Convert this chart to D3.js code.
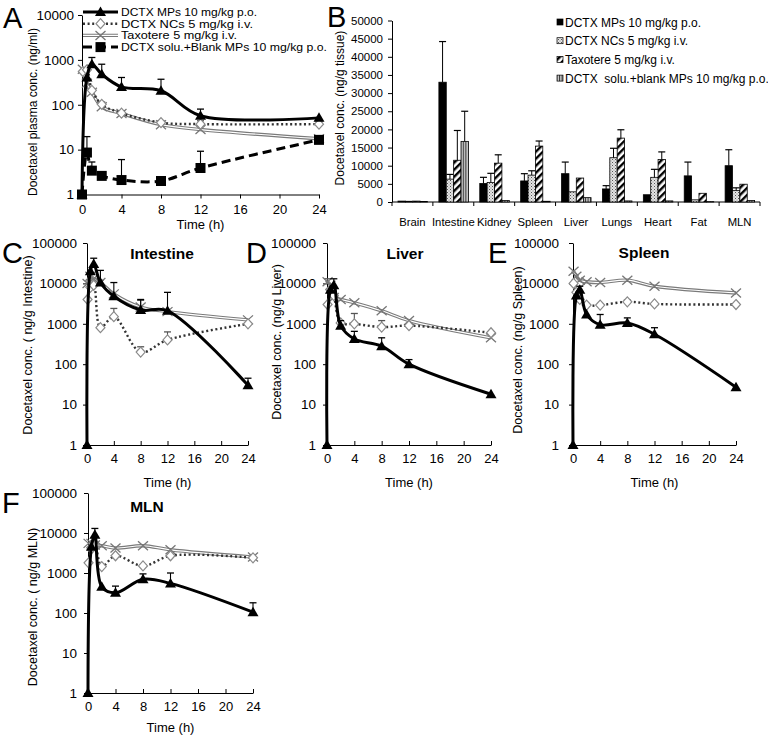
<!DOCTYPE html>
<html><head><meta charset="utf-8">
<script src="https://cdn.jsdelivr.net/npm/d3@7"></script>
<style>body{margin:0;background:#fff} text{font-family:"Liberation Sans",Arial,sans-serif}</style>
</head><body><svg id="c" width="768" height="740"></svg>
<script>
// ---------- shared ----------
const xTicks = [0, 4, 8, 12, 16, 20, 24];
const yTicksA = [1, 10, 100, 1000, 10000];
const yTicksT = [1, 10, 100, 1000, 10000, 100000];
const tPO = [0, 0.5, 1, 2, 4, 8, 12, 24];
const tIV = [0.083, 0.5, 1, 2, 4, 8, 12, 24];
const legendA = ["DCTX MPs 10 mg/kg p.o.", "DCTX NCs 5 mg/kg i.v.", "Taxotere 5 mg/kg i.v.", "DCTX solu.+Blank MPs 10 mg/kg p.o."];
const legendB = ["DCTX MPs 10 mg/kg p.o.", "DCTX NCs 5 mg/kg i.v.", "Taxotere 5 mg/kg i.v.", "DCTX  solu.+blank MPs 10 mg/kg p.o."];

// ---------- Panel A (plasma) ----------
const A_MPs = [1, 405, 800, 480, 250, 205, 57, 51];
const A_MPs_err = [null, null, 1130, 800, 405, 370, 80, null];
const A_NCs = [550, 600, 210, 102, 65, 40, 37, 37];
const A_NCs_err = [null, null, null, 115, 72, 44, 44, 42];
const A_Tax = [620, 300, 190, 90, 64, 36, 28, 17.5];
const A_Tax_err = [null, null, null, null, null, null, null, null];
const A_Blank = [1, 8.6, 3.4, 2.6, 2.1, 2.0, 3.9, 16.5];
const A_Blank_err = [null, 19.5, 5.3, null, 6.0, null, 9.2, null];

// ---------- Panel B (tissue distribution) ----------
const organs = ["Brain", "Intestine", "Kidney", "Spleen", "Liver", "Lungs", "Heart", "Fat", "MLN"];
const B_MPs = [250, 33000, 5100, 5800, 7800, 3600, 2000, 7200, 10000];
const B_MPs_err = [null, 44200, 6800, 7800, 11000, 4500, null, 11000, 14400];
const B_NCs = [200, 6300, 5400, 7400, 2800, 12200, 6800, 600, 3200];
const B_NCs_err = [null, 7600, 7900, 8600, null, 14800, 9000, null, 3900];
const B_Tax = [250, 11500, 10700, 15400, 6600, 17600, 11700, 2400, 4900];
const B_Tax_err = [null, 19700, 13000, 16800, null, 19900, 13800, null, null];
const B_Blank = [150, 16700, 400, 200, 1200, 300, 300, 100, 400];
const B_Blank_err = [null, 25000, null, null, null, null, null, null, null];

// ---------- Panel C (Intestine) ----------
const C_MPs = [1, 20000, 30000, 10500, 4800, 2200, 2100, 30];
const C_MPs_err = [null, null, 42000, 21000, 10500, 4000, 6000, 45];
const C_NCs = [4000, 8000, 9000, 800, 1500, 200, 400, 1000];
const C_NCs_err = [null, null, null, null, 2400, 270, 630, null];
const C_Tax = [10000, 15000, 13000, 10500, 5500, 2600, 2000, 1250];
const C_Tax_err = [null, null, null, 12000, null, 3800, null, null];

// ---------- Panel D (Liver) ----------
const D_MPs = [1, 7000, 9000, 900, 420, 280, 100, 18];
const D_MPs_err = [null, null, 13000, 1200, 650, 450, 130, null];
const D_NCs = [3000, 7000, 5000, 1050, 1000, 830, 900, 600];
const D_NCs_err = [null, null, null, null, 1800, 1200, null, null];
const D_Tax = [11000, 9000, 4500, 4000, 3300, 2100, 1200, 450];
const D_Tax_err = [13000, null, null, null, null, null, null, null];

// ---------- Panel E (Spleen) ----------
const E_MPs = [1, 5000, 7000, 1700, 950, 1050, 550, 27];
const E_MPs_err = [null, null, 8500, null, 1700, 1400, 800, null];
const E_NCs = [10000, 6000, 4000, 2900, 2900, 3500, 3100, 3000];
const E_NCs_err = [null, null, null, null, null, 3900, null, null];
const E_Tax = [20000, 15000, 12000, 11000, 10500, 12000, 8500, 5800];
const E_Tax_err = [null, null, null, null, null, null, null, null];

// ---------- Panel F (MLN) ----------
const F_MPs = [1, 4500, 9000, 450, 320, 700, 550, 105];
const F_MPs_err = [null, null, 13000, null, 470, 950, 1000, 180];
const F_NCs = [1800, 4000, 5000, 1450, 2700, 1500, 2700, 2400];
const F_NCs_err = [null, null, null, null, null, null, null, null];
const F_Tax = [5500, 5500, 5000, 4800, 4200, 4800, 3800, 2500];
const F_Tax_err = [null, null, null, null, null, null, null, null];

// =====================================================
const svg = d3.select("#c");
svg.append("rect").attr("width", 768).attr("height", 740).attr("fill", "#fff");
const FONT = '"Liberation Sans", Arial, sans-serif';

// patterns for bars
const defs = svg.append("defs");
const pNC = defs.append("pattern").attr("id", "pNC").attr("width", 3).attr("height", 3).attr("patternUnits", "userSpaceOnUse");
pNC.append("rect").attr("width", 3).attr("height", 3).attr("fill", "#e4e4e4");
pNC.append("rect").attr("width", 1).attr("height", 1).attr("fill", "#555");
pNC.append("rect").attr("x", 1.5).attr("y", 1.5).attr("width", 1).attr("height", 1).attr("fill", "#888");
const pTax = defs.append("pattern").attr("id", "pTax").attr("width", 5).attr("height", 5).attr("patternUnits", "userSpaceOnUse").attr("patternTransform", "rotate(45)");
pTax.append("rect").attr("width", 5).attr("height", 5).attr("fill", "#fff");
pTax.append("rect").attr("width", 2.4).attr("height", 5).attr("fill", "#000");
const pBl = defs.append("pattern").attr("id", "pBlank").attr("width", 2.6).attr("height", 4).attr("patternUnits", "userSpaceOnUse");
pBl.append("rect").attr("width", 2.6).attr("height", 4).attr("fill", "#c8c8c8");
pBl.append("rect").attr("width", 1).attr("height", 4).attr("fill", "#333");

// marker shapes
const MARK = {
  mp: "M0,-5.5L5.5,4L-5.5,4Z",
  blank: "M-5,-5h10v10h-10Z",
  nc: "M0,-5L4.5,0L0,5L-4.5,0Z",
  tax: "M-5,-4.5L5,4.5M-5,4.5L5,-4.5"
};

function drawMarker(g, style, cx, cy) {
  const p = g.append("path").attr("d", MARK[style]).attr("transform", `translate(${cx},${cy})`);
  if (style === "mp" || style === "blank") p.attr("fill", "#000");
  else if (style === "nc") p.attr("fill", "#fff").attr("stroke", "#8a8a8a").attr("stroke-width", 1.2);
  else p.attr("fill", "none").attr("stroke", "#777").attr("stroke-width", 1.3);
}

function strokeLine(g, style, d) {
  if (style === "tax") {
    g.append("path").attr("d", d).attr("fill", "none").attr("stroke", "#7a7a7a").attr("stroke-width", 3.4);
    g.append("path").attr("d", d).attr("fill", "none").attr("stroke", "#fff").attr("stroke-width", 1.2);
  } else if (style === "nc") {
    g.append("path").attr("d", d).attr("fill", "none").attr("stroke", "#333").attr("stroke-width", 2.4).attr("stroke-dasharray", "2,2.6");
  } else if (style === "mp") {
    g.append("path").attr("d", d).attr("fill", "none").attr("stroke", "#000").attr("stroke-width", 3);
  } else {
    g.append("path").attr("d", d).attr("fill", "none").attr("stroke", "#000").attr("stroke-width", 3).attr("stroke-dasharray", "9,5");
  }
}

function styleAxis(sel, fs) {
  sel.attr("font-family", FONT).attr("font-size", fs);
  sel.select(".domain").attr("stroke", "#000");
  sel.selectAll(".tick line").attr("stroke", "#000");
  sel.selectAll(".tick text").attr("fill", "#000");
}

function linePanel(o) {
  const x = d3.scaleLinear().domain([0, 24]).range([o.x0, o.x1]);
  const y = d3.scaleLog().domain([1, o.ymax]).range([o.y0, o.y1]);
  const g = svg.append("g");
  g.append("g").attr("transform", `translate(${o.x0},0)`)
    .call(d3.axisLeft(y).tickValues(o.yticks).tickFormat(d3.format("d")).tickSizeInner(4).tickSizeOuter(0).tickPadding(o.ypad))
    .call(s => styleAxis(s, o.yfs));
  g.append("g").attr("transform", `translate(0,${o.y0})`)
    .call(d3.axisBottom(x).tickValues(xTicks).tickSizeInner(o.xtick).tickSizeOuter(0).tickPadding(o.xpad))
    .call(s => styleAxis(s, o.xfs));
  const line = d3.line().x(d => x(d.t)).y(d => y(d.v)).curve(d3.curveCatmullRom.alpha(0.5));
  o.series.forEach(s => {
    const pts = s.t.map((t, i) => ({ t, v: s.v[i], e: s.e[i] }));
    strokeLine(g, s.style, line(pts));
    const ec = (s.style === "mp" || s.style === "blank") ? "#000" : "#555";
    pts.filter(d => d.e != null).forEach(d => {
      const cx = x(d.t);
      g.append("line").attr("x1", cx).attr("x2", cx).attr("y1", y(d.v)).attr("y2", y(d.e)).attr("stroke", ec).attr("stroke-width", 1.1);
      g.append("line").attr("x1", cx - 3.5).attr("x2", cx + 3.5).attr("y1", y(d.e)).attr("y2", y(d.e)).attr("stroke", ec).attr("stroke-width", 1.3);
    });
    pts.forEach(d => drawMarker(g, s.style, x(d.t), y(d.v)));
  });
  if (o.title) g.append("text").attr("x", o.title[1]).attr("y", o.title[2]).attr("text-anchor", "middle")
    .attr("font-size", 15.5).attr("font-weight", "bold").text(o.title[0]);
  g.append("text").attr("x", (o.x0 + o.x1) / 2).attr("y", o.timeY).attr("text-anchor", "middle").attr("font-size", 13).text("Time (h)");
  g.append("text").attr("transform", `translate(${o.ylab[1]},${o.ylab[2]}) rotate(-90)`).attr("text-anchor", "middle")
    .attr("dy", "0.35em").attr("font-size", o.ylabfs).text(o.ylab[0]);
  g.append("text").attr("x", o.letter[1]).attr("y", o.letter[2]).attr("font-size", 29).text(o.letter[0]);
}

function ser(vMP, eMP, vNC, eNC, vTax, eTax) {
  return [
    { style: "tax", t: tIV, v: vTax, e: eTax },
    { style: "nc", t: tIV, v: vNC, e: eNC },
    { style: "mp", t: tPO, v: vMP, e: eMP }
  ];
}

// Panel A
const seriesA = ser(A_MPs, A_MPs_err, A_NCs, A_NCs_err, A_Tax, A_Tax_err);
seriesA.push({ style: "blank", t: tPO, v: A_Blank, e: A_Blank_err });
linePanel({ x0: 82, x1: 319, y0: 194.5, y1: 15, ymax: 10000, yticks: yTicksA, ypad: 4, yfs: 13.5, xtick: 4, xpad: 6, xfs: 13,
  timeY: 229, ylab: ["Docetaxel plasma conc. (ng/ml)", 33, 112], ylabfs: 12, letter: ["A", 3, 28], series: seriesA });

// Panel A legend (drawn over the plot, as in the reference)
const styles = ["mp", "nc", "tax", "blank"];
const legWidths = [136, 132, 116, 206];
const legA = svg.append("g");
legendA.forEach((txt, i) => {
  const yy = 12 + i * 11.7;
  strokeLine(legA, styles[i], `M83,${yy}L118,${yy}`);
  drawMarker(legA, styles[i], 100.5, yy);
  legA.append("text").attr("x", 121).attr("y", yy + 3.8).attr("font-size", 10.1)
    .attr("textLength", legWidths[i]).attr("lengthAdjust", "spacingAndGlyphs").text(txt);
});

// Panels C-F
linePanel({ x0: 87, x1: 248, y0: 445, y1: 243, ymax: 100000, yticks: yTicksT, ypad: 6, yfs: 13.5, xtick: -4, xpad: 9, xfs: 13,
  timeY: 487, ylab: ["Docetaxel conc. ( ng/g Intestine)", 28, 345], ylabfs: 12.5, letter: ["C", 2, 263],
  title: ["Intestine", 162, 259], series: ser(C_MPs, C_MPs_err, C_NCs, C_NCs_err, C_Tax, C_Tax_err) });
linePanel({ x0: 327, x1: 491, y0: 445, y1: 243, ymax: 100000, yticks: yTicksT, ypad: 7, yfs: 13.5, xtick: -4, xpad: 9, xfs: 13,
  timeY: 487, ylab: ["Docetaxel conc. (ng/g Liver)", 277, 342], ylabfs: 12.5, letter: ["D", 246, 263],
  title: ["Liver", 405, 259], series: ser(D_MPs, D_MPs_err, D_NCs, D_NCs_err, D_Tax, D_Tax_err) });
linePanel({ x0: 573, x1: 736, y0: 445, y1: 243, ymax: 100000, yticks: yTicksT, ypad: 10, yfs: 13.5, xtick: -4, xpad: 9, xfs: 13,
  timeY: 487, ylab: ["Docetaxel conc. (ng/g Spleen)", 518, 350], ylabfs: 12.5, letter: ["E", 488, 263],
  title: ["Spleen", 644, 258], series: ser(E_MPs, E_MPs_err, E_NCs, E_NCs_err, E_Tax, E_Tax_err) });
linePanel({ x0: 88, x1: 253, y0: 693, y1: 493, ymax: 100000, yticks: yTicksT, ypad: 7, yfs: 13.5, xtick: -4, xpad: 9, xfs: 13,
  timeY: 732, ylab: ["Docetaxel conc. ( ng/g MLN)", 33, 607], ylabfs: 12.5, letter: ["F", 2, 513],
  title: ["MLN", 147, 512], series: ser(F_MPs, F_MPs_err, F_NCs, F_NCs_err, F_Tax, F_Tax_err) });

// ---------- Panel B ----------
const gB = svg.append("g");
const xB = d3.scaleBand().domain(organs).range([392, 760]);
const sub = d3.scaleBand().domain([0, 1, 2, 3]).range([6, 35.5]);
const yB = d3.scaleLinear().domain([0, 50000]).range([202, 20.5]);
gB.append("g").attr("transform", "translate(392,0)")
  .call(d3.axisLeft(yB).tickValues(d3.range(0, 50001, 5000)).tickFormat(d3.format("d")).tickSizeInner(4).tickSizeOuter(0).tickPadding(5))
  .call(s => styleAxis(s, 11.5));
gB.append("line").attr("x1", 392).attr("x2", 760).attr("y1", 202).attr("y2", 202).attr("stroke", "#000");
d3.range(organs.length + 1).forEach(i => {
  const xx = 392 + i * xB.bandwidth();
  gB.append("line").attr("x1", xx).attr("x2", xx).attr("y1", 202).attr("y2", 206).attr("stroke", "#000");
});
organs.forEach(o => gB.append("text").attr("x", xB(o) + xB.bandwidth() / 2).attr("y", 226).attr("text-anchor", "middle").attr("font-size", 11.3).text(o));
const barSeries = [
  { v: B_MPs, e: B_MPs_err, fill: "#000" },
  { v: B_NCs, e: B_NCs_err, fill: "url(#pNC)" },
  { v: B_Tax, e: B_Tax_err, fill: "url(#pTax)" },
  { v: B_Blank, e: B_Blank_err, fill: "url(#pBlank)" }
];
barSeries.forEach((s, k) => {
  organs.forEach((o, i) => {
    const bx = xB(o) + sub(k);
    gB.append("rect").attr("x", bx).attr("y", yB(s.v[i])).attr("width", sub.bandwidth()).attr("height", yB(0) - yB(s.v[i]))
      .attr("fill", s.fill).attr("stroke", "#000").attr("stroke-width", 0.8);
    if (s.e[i] != null) {
      const cx = bx + sub.bandwidth() / 2;
      gB.append("line").attr("x1", cx).attr("x2", cx).attr("y1", yB(s.v[i])).attr("y2", yB(s.e[i])).attr("stroke", "#000").attr("stroke-width", 1);
      gB.append("line").attr("x1", cx - 3.5).attr("x2", cx + 3.5).attr("y1", yB(s.e[i])).attr("y2", yB(s.e[i])).attr("stroke", "#000").attr("stroke-width", 1.2);
    }
  });
});
gB.append("text").attr("transform", "translate(340,108) rotate(-90)").attr("text-anchor", "middle").attr("dy", "0.35em")
  .attr("font-size", 12).text("Docetaxel conc. (ng/g tissue)");
gB.append("text").attr("x", 327).attr("y", 27).attr("font-size", 29).text("B");
legendB.forEach((txt, i) => {
  const yy = 22 + i * 18.7;
  gB.append("rect").attr("x", 557).attr("y", yy - 3).attr("width", 6).attr("height", 6).attr("fill", barSeries[i].fill).attr("stroke", "#000").attr("stroke-width", 0.7);
  gB.append("text").attr("x", 565).attr("y", yy + 4.5).attr("font-size", 12).attr("xml:space", "preserve").style("white-space", "pre").text(txt);
});
</script>
</body></html>
